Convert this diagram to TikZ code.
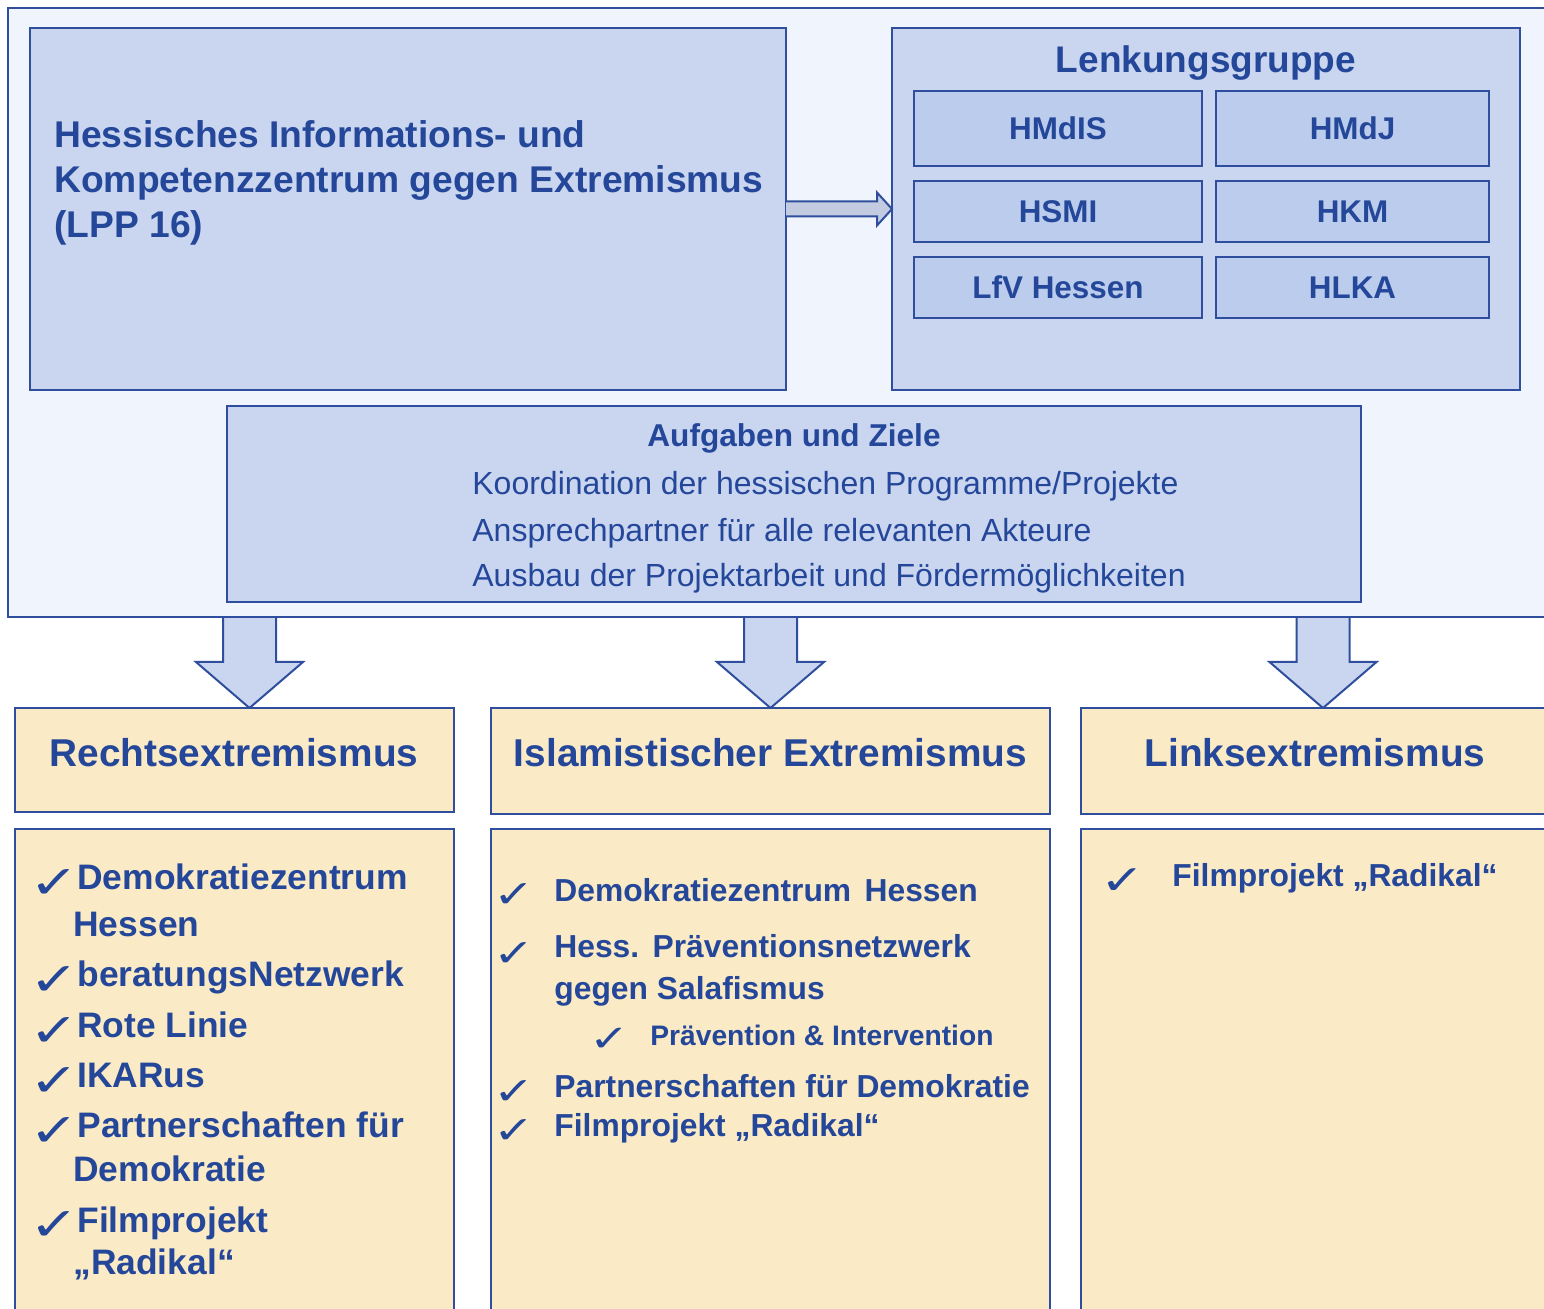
\documentclass[tikz,border=0pt]{standalone}
\usepackage{graphicx}
\usepackage{fontspec}
\setmainfont{Liberation Sans}
\newfontfamily\chkfont{DejaVu Sans}
\usetikzlibrary{calc}
\definecolor{bord}{HTML}{2F4F9E}
\definecolor{txt}{HTML}{24479A}
\definecolor{outerfill}{HTML}{F0F4FC}
\definecolor{boxfill}{HTML}{CAD6F0}
\definecolor{innerfill}{HTML}{BBCCEC}
\definecolor{yel}{HTML}{FAEAC6}
\definecolor{harrowfill}{HTML}{C2CBE0}
\newcommand\fs[1]{\fontsize{#1pt}{#1pt}\selectfont}
\newcommand\ck[1]{\scalebox{#1}[1]{✓}}
% style, x1, y1, x2, y2, name, text
\newcommand\boxat[7]{\node[#1, minimum width={(#4-#2)*0.5pt}, minimum height={(#5-#3)*0.5pt}] (#6) at ({(#2+#4)/2},{(#3+#5)/2}) {#7};}
\newcommand\blockdown[2]{%
  \draw[darr] ($(#1)+(-26.5,0)$) -- ($(#2)+(-26.5,-46)$) -- ($(#2)+(-53.5,-46)$) -- (#2)
    -- ($(#2)+(53.5,-46)$) -- ($(#2)+(26.5,-46)$) -- ($(#1)+(26.5,0)$);}
\begin{document}
\begin{tikzpicture}[x=0.5pt,y=-0.5pt,
  base/.style={draw=bord, line width=1pt, inner sep=0pt, outer sep=0pt, text=txt, font=\bfseries},
  outerbox/.style={base, fill=outerfill},
  bluebox/.style={base, fill=boxfill},
  innerbox/.style={base, fill=innerfill, font=\bfseries\fs{15.7}},
  yelbox/.style={base, fill=yel},
  tx/.style={inner sep=0pt, anchor=base west, text=txt, font=\bfseries},
  ctx/.style={inner sep=0pt, anchor=base, text=txt, font=\bfseries},
  chk/.style={inner sep=0pt, anchor=base west, text=txt},
  darr/.style={draw=bord, line width=1pt, fill=boxfill, line join=miter},
  harr/.style={draw=bord, line width=1pt, fill=harrowfill, line join=miter},
]
\useasboundingbox (0,0) rectangle (1544,1309);
\clip (0,0) rectangle (1544,1309);
\fill[white] (0,0) rectangle (1544,1309);

% down arrows (drawn first, under the outer border)
\coordinate (a1s) at (249.5,617);
\coordinate (a1e) at (249.5,708);
\coordinate (a2s) at (770.5,617);
\coordinate (a2e) at (770.5,708);
\coordinate (a3s) at (1323,617);
\coordinate (a3e) at (1323,708);
\blockdown{a1s}{a1e}
\blockdown{a2s}{a2e}
\blockdown{a3s}{a3e}

% outer frame
\boxat{outerbox}{8}{8}{1600}{617}{outer}{}

% main box
\boxat{bluebox}{30}{28}{786}{390}{main}{}
\node[tx, font=\bfseries\fs{18.6}] (t1) at (54,148) {Hessisches Informations- und};
\node[tx, font=\bfseries\fs{18.6}] (t2) at (54,193) {Kompetenzzentrum gegen Extremismus};
\node[tx, font=\bfseries\fs{18.6}] (t3) at (54,238) {(LPP 16)};

% Lenkungsgruppe
\boxat{bluebox}{892}{28}{1520}{390}{lenk}{}
\node[ctx, font=\bfseries\fs{18.5}] (lenkt) at (1206,73) {Lenkungsgruppe};
\boxat{innerbox}{914}{91}{1202}{166}{hmdis}{HMdIS}
\boxat{innerbox}{1216}{91}{1489}{166}{hmdj}{HMdJ}
\boxat{innerbox}{914}{181}{1202}{242}{hsmi}{HSMI}
\boxat{innerbox}{1216}{181}{1489}{242}{hkm}{HKM}
\boxat{innerbox}{914}{257}{1202}{318}{lfv}{LfV Hessen}
\boxat{innerbox}{1216}{257}{1489}{318}{hlka}{HLKA}

% horizontal block arrow main -> lenk
\draw[harr] ($(main.east)+(0,-7.5)$) -- ($(lenk.west)+(-15,-7.5)$) -- ($(lenk.west)+(-15,-16.5)$)
  -- (lenk.west) -- ($(lenk.west)+(-15,16.5)$) -- ($(lenk.west)+(-15,7.5)$) -- ($(main.east)+(0,7.5)$);

% Aufgaben und Ziele
\boxat{bluebox}{227}{406}{1361}{602}{aufg}{}
\node[ctx, font=\bfseries\fs{15.8}] (aufgt) at (794,447) {Aufgaben und Ziele};
\node[tx, font=\mdseries\fs{16}] (auf1) at (472,495) {Koordination der hessischen Programme/Projekte};
\node[tx, font=\mdseries\fs{16}] (auf2) at (472,542) {Ansprechpartner für alle relevanten Akteure};
\node[tx, font=\mdseries\fs{16}] (auf3) at (472,587) {Ausbau der Projektarbeit und Fördermöglichkeiten};

% header boxes
\boxat{yelbox}{15}{708}{454}{812}{h1}{}
\boxat{yelbox}{491}{708}{1050}{814}{h2}{}
\boxat{yelbox}{1081}{708}{1600}{814}{h3}{}
\node[ctx, font=\bfseries\fs{19.4}] (h1t) at (234,767) {Rechtsextremismus};
\node[ctx, font=\bfseries\fs{19.4}] (h2t) at (770.5,767) {Islamistischer Extremismus};
\node[ctx, font=\bfseries\fs{19.4}] (h3t) at (1315,767) {Linksextremismus};

% content boxes
\boxat{yelbox}{15}{829}{454}{1340}{c1}{}
\boxat{yelbox}{491}{829}{1050}{1340}{c2}{}
\boxat{yelbox}{1081}{829}{1600}{1340}{c3}{}

% left list
\foreach \yy/\nm in {899/k1,996/k2,1047/k3,1097/k4,1147/k5,1241/k6}
  \node[chk, font=\chkfont\bfseries\fs{23}] (\nm) at (29,\yy) {\ck{1.3}};
\node[tx, font=\bfseries\fs{17.7}] (l1) at (77,890) {Demokratiezentrum};
\node[tx, font=\bfseries\fs{17.7}] (l1b) at (73,937) {Hessen};
\node[tx, font=\bfseries\fs{17.7}] (l2) at (77,987) {beratungsNetzwerk};
\node[tx, font=\bfseries\fs{17.7}] (l3) at (77,1038) {Rote Linie};
\node[tx, font=\bfseries\fs{17.7}] (l4) at (77,1088) {IKARus};
\node[tx, font=\bfseries\fs{17.7}] (l5) at (77,1138) {Partnerschaften für};
\node[tx, font=\bfseries\fs{17.7}] (l5b) at (73,1182) {Demokratie};
\node[tx, font=\bfseries\fs{17.7}] (l6) at (77,1232) {Filmprojekt};
\node[tx, font=\bfseries\fs{17.7}] (l6b) at (73,1275) {„Radikal“};

% middle list
\foreach \yy/\nm in {908/m1,967/m2,1105/m3,1144/m4}
  \node[chk, font=\chkfont\fs{19}] (\nm) at (493,\yy) {\ck{1.3}};
\node[chk, font=\chkfont\fs{18.5}] (msub) at (589,1052) {\ck{1.3}};
\node[tx, font=\bfseries\fs{15.9}] (mt1) at (554,902) {Demokratiezentrum\hspace{0.42em}Hessen};
\node[tx, font=\bfseries\fs{15.9}] (mt2) at (554,958) {Hess.\hspace{0.42em}Präventionsnetzwerk};
\node[tx, font=\bfseries\fs{15.9}] (mt2b) at (554,1000) {gegen Salafismus};
\node[tx, font=\bfseries\fs{14.1}] (mt2c) at (650,1046) {Prävention \& Intervention};
\node[tx, font=\bfseries\fs{15.9}] (mt3) at (554,1098) {Partnerschaften für Demokratie};
\node[tx, font=\bfseries\fs{15.9}] (mt4) at (554,1137) {Filmprojekt „Radikal“};

% right list
\node[chk, font=\chkfont\fs{20.5}] (r1) at (1100,895) {\ck{1.3}};
\node[tx, font=\bfseries\fs{15.9}] (rt1) at (1172,887) {Filmprojekt „Radikal“};
\end{tikzpicture}
\end{document}
